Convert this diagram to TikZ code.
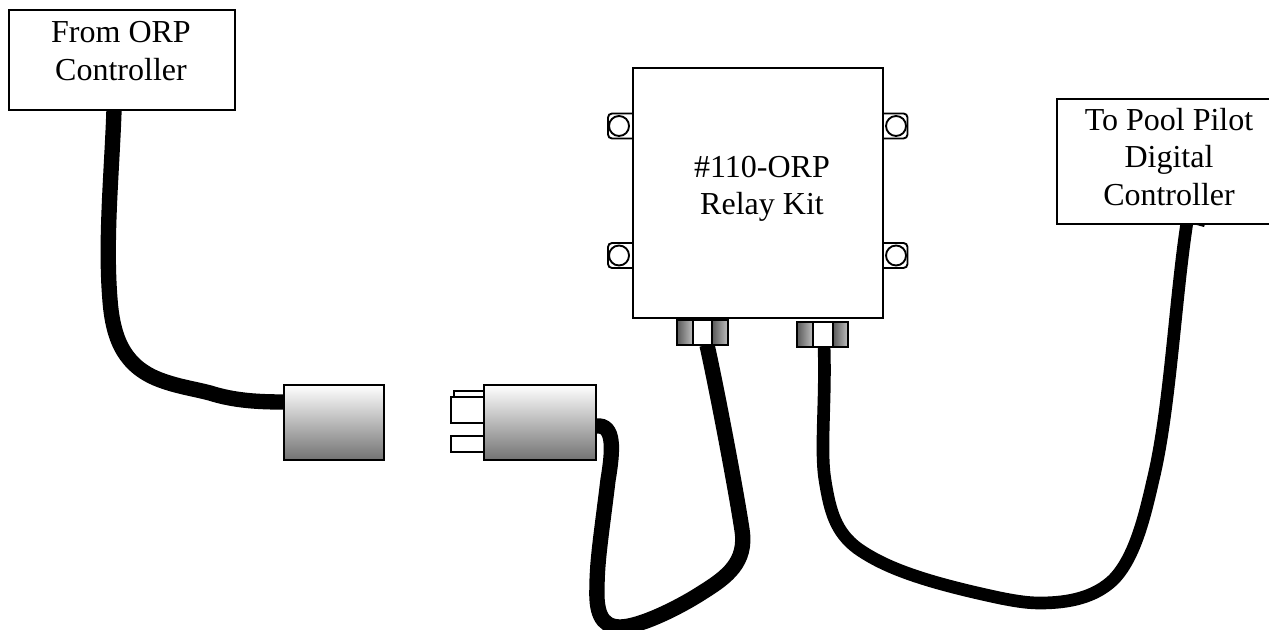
\documentclass[tikz,border=0pt]{standalone}
\usepackage{fontspec}
\setmainfont{Liberation Serif}
\begin{document}
\begin{tikzpicture}[x=0.75pt,y=-0.75pt]
\tikzset{outline/.style={draw=black,line width=1.6pt},
 cable/.style={draw=black,line width=11.5pt},
 thincable/.style={draw=black,line width=9.5pt},
 plug/.style={outline,top color=white,bottom color=black!55},
 nut/.style={outline,left color=black!65,right color=black!25},
 thin/.style={draw=black,line width=1.4pt},
 txt/.style={align=center,font=\fontsize{24}{28}\selectfont,inner sep=0pt}}
\useasboundingbox (0,0) rectangle (1269,630);
\begin{scope}
\clip (0,0) rectangle (1269,630);
% cables
\coordinate (c1a) at (114,110);
\coordinate (c1b) at (285,402);
\draw[cable] (c1a) .. controls (112,170) and (105,240) .. (110,300) .. controls (113,340) and (125,368) .. (163,381) .. controls (180,387) and (195,389) .. (210,393) .. controls (235,401) and (260,402) .. (c1b);
\coordinate (c2a) at (596,426);
\coordinate (c2b) at (707,345);
\draw[cable] (c2b) .. controls (717,390) and (736,490) .. (742,530) .. controls (747,562) and (727,577) .. (703,592) .. controls (680,607) and (640,627) .. (620,627) .. controls (600,627) and (596,610) .. (597,587) .. controls (597,560) and (602,530) .. (608,480) .. controls (613,450) and (615,424) .. (c2a);
\coordinate (c3a) at (824,345);
\coordinate (c3b) at (1187,222);
\draw[thincable] (c3a) .. controls (826,400) and (820,450) .. (825,480) .. controls (830,512) and (836,532) .. (857,548) .. controls (885,568) and (925,582) .. (1000,598) .. controls (1020,602) and (1030,603) .. (1040,603) .. controls (1070,603) and (1095,597) .. (1113,580) .. controls (1135,558) and (1145,515) .. (1153,480) .. controls (1170,410) and (1175,300) .. (c3b);
\end{scope}
% left box
\path[outline,fill=white] (9,10) rectangle (235,110);
\node[txt] (fromt) at (121,51) {From ORP\\Controller};
% right box
\path[outline,fill=white] (1057,99) rectangle (1275,224);
\node[txt] (tot) at (1169,157) {To Pool Pilot\\Digital\\Controller};
\fill (1193,224) -- (1205,224) -- (1204,227) -- cycle;
% ears
\foreach \n/\cx/\cy in {a/619/126,b/619/255.5}{
  \draw[thin,rounded corners=3pt,fill=white] (634,\cy-12.5) -- (608,\cy-12.5) -- (608,\cy+12.5) -- (634,\cy+12.5);
  \draw[thin,fill=white] (\cx,\cy) circle (10);
}
\foreach \n/\cx/\cy in {c/896/126,d/896/255.5}{
  \draw[thin,rounded corners=3pt,fill=white] (882,\cy-12.5) -- (907.5,\cy-12.5) -- (907.5,\cy+12.5) -- (882,\cy+12.5);
  \draw[thin,fill=white] (\cx,\cy) circle (10);
}
% main box
\path[outline,fill=white] (633,68) rectangle (883,318);
\node[txt] (kit) at (762,189) {\#110-ORP\\Relay Kit};
% nuts
\path[nut] (677,319.5) rectangle (693,345);
\path[nut] (712,319.5) rectangle (728,345);
\path[outline,fill=white] (693,319.5) rectangle (712,345);
\path[nut] (797,322) rectangle (813,347);
\path[nut] (833,322) rectangle (848,347);
\path[outline,fill=white] (813,322) rectangle (833,347);
% plugs
\path[plug] (284,385) rectangle (384,460);
\path[outline,fill=white] (454,391) rectangle (484,400);
\path[outline,fill=white] (451,397) rectangle (484,423);
\path[outline,fill=white] (451,436) rectangle (484,452);
\path[plug] (484,385) rectangle (596,460);
\end{tikzpicture}
\end{document}
